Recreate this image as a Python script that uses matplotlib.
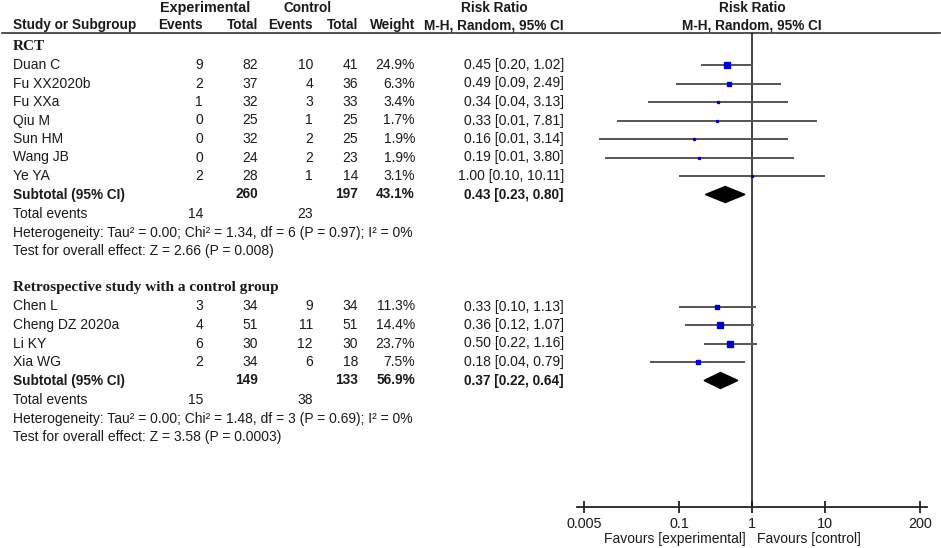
import numpy as np
import matplotlib
matplotlib.use("Agg")
import matplotlib.pyplot as plt

# Study data
rct_names = ["Duan C", "Fu XX2020b", "Fu XXa", "Qiu M", "Sun HM", "Wang JB", "Ye YA"]
rct_exp_events = [9, 2, 1, 0, 0, 0, 2]
rct_exp_total = [82, 37, 32, 25, 32, 24, 28]
rct_ctl_events = [10, 4, 3, 1, 2, 2, 1]
rct_ctl_total = [41, 36, 33, 25, 25, 23, 14]
rct_weight = [24.9, 6.3, 3.4, 1.7, 1.9, 1.9, 3.1]
rct_rr = [0.45, 0.49, 0.34, 0.33, 0.16, 0.19, 1.00]
rct_lo = [0.20, 0.09, 0.038, 0.014, 0.0079, 0.0097, 0.10]
rct_hi = [1.02, 2.49, 3.13, 7.81, 3.14, 3.80, 10.11]
rct_sub = dict(exp_total=260, ctl_total=197, weight=43.1, rr=0.43, lo=0.23, hi=0.80,
               exp_ev=14, ctl_ev=23,
               het="Heterogeneity: Tau\u00b2 = 0.00; Chi\u00b2 = 1.34, df = 6 (P = 0.97); I\u00b2 = 0%",
               test="Test for overall effect: Z = 2.66 (P = 0.008)")

retro_names = ["Chen L", "Cheng DZ 2020a", "Li KY", "Xia WG"]
retro_exp_events = [3, 4, 6, 2]
retro_exp_total = [34, 51, 30, 34]
retro_ctl_events = [9, 11, 12, 6]
retro_ctl_total = [34, 51, 30, 18]
retro_weight = [11.3, 14.4, 23.7, 7.5]
retro_rr = [0.33, 0.36, 0.50, 0.18]
retro_lo = [0.10, 0.12, 0.22, 0.04]
retro_hi = [1.13, 1.07, 1.16, 0.79]
retro_sub = dict(exp_total=149, ctl_total=133, weight=56.9, rr=0.37, lo=0.22, hi=0.64,
                 exp_ev=15, ctl_ev=38,
                 het="Heterogeneity: Tau\u00b2 = 0.00; Chi\u00b2 = 1.48, df = 3 (P = 0.69); I\u00b2 = 0%",
                 test="Test for overall effect: Z = 3.58 (P = 0.0003)")

tick_vals = [0.005, 0.1, 1, 10, 200]
tick_labels = ["0.005", "0.1", "1", "10", "200"]

FS = 10.0
FSB = 9.8
SANS = "Liberation Sans"
SERIF = "Liberation Serif"
TXT = "#1a1a1a"

fig = plt.figure(figsize=(9.41, 5.48), dpi=100)
ax = fig.add_axes([0, 0, 1, 1])
ax.set_xlim(0, 941)
ax.set_ylim(548, 0)
ax.axis("off")

# forest panel, sharing vertical pixel rows with the table
fax = fig.add_axes([577 / 941, 0, 350 / 941, 1])
fax.set_xscale("log")
fax.set_xlim(10 ** -2.4, 10 ** 2.4)
fax.set_ylim(548, 0)
fax.patch.set_alpha(0)
for s in ["top", "left", "right"]:
    fax.spines[s].set_visible(False)
fax.spines["bottom"].set_position(("data", 507))
fax.spines["bottom"].set_linewidth(1.3)
fax.spines["bottom"].set_color("#222222")
fax.set_xticks(tick_vals)
fax.set_xticklabels(tick_labels, fontsize=10.4, family=SANS, color=TXT)
fax.xaxis.set_minor_locator(matplotlib.ticker.NullLocator())
fax.tick_params(axis="x", direction="inout", length=9, width=1.3, color="#222222", pad=2.5)
fax.set_yticks([])

# column right edges / anchors (px)
col_ev1, col_tot1, col_ev2, col_tot2, col_w, col_ci = 203, 258, 313, 358, 415, 564


def t(x, y, s, ha="left", bold=False, family=SANS, size=None):
    if size is None:
        size = FSB if bold else FS
    ax.text(x, y, s, ha=ha, va="center", fontsize=size, family=family,
            fontweight="bold" if bold else "normal", color=TXT)


# headers
t(205, 8, "Experimental", ha="center", bold=True, size=10.4)
t(308, 8, "Control", ha="center", bold=True)
t(494, 8, "Risk Ratio", ha="center", bold=True)
t(752, 8, "Risk Ratio", ha="center", bold=True)
t(13, 25, "Study or Subgroup", bold=True)
t(col_ev1, 25, "Events", ha="right", bold=True)
t(col_tot1, 25, "Total", ha="right", bold=True)
t(col_ev2, 25, "Events", ha="right", bold=True)
t(col_tot2, 25, "Total", ha="right", bold=True)
t(col_w, 25, "Weight", ha="right", bold=True)
t(494, 25, "M-H, Random, 95% CI", ha="center", bold=True)
t(752, 25, "M-H, Random, 95% CI", ha="center", bold=True)
ax.plot([2, 940], [32.5, 32.5], color="#333333", lw=1.2)

fax.vlines(1, 33, 507, color="#111111", lw=1.1)


def ci_str(r, lo, hi):
    return f"{r:.2f} [{lo:.2f}, {hi:.2f}]"


def group(title, y0, names, ee, et, ce, ct, w, rr, lo, hi, sub):
    t(13, y0, title, bold=True, family=SERIF, size=11)
    step = 18.5
    for i, name in enumerate(names):
        y = y0 + step * (i + 1)
        t(13, y, name)
        t(col_ev1, y, str(ee[i]), ha="right")
        t(col_tot1, y, str(et[i]), ha="right")
        t(col_ev2, y, str(ce[i]), ha="right")
        t(col_tot2, y, str(ct[i]), ha="right")
        t(col_w, y, f"{w[i]:.1f}%", ha="right")
        t(col_ci, y, ci_str(rr[i], lo[i], hi[i]), ha="right")
        fax.plot([lo[i], hi[i]], [y, y], color="#555555", lw=1.4, solid_capstyle="butt", zorder=2)
        fax.plot(rr[i], y, marker="s", ms=np.sqrt(w[i]) * 1.0, color="#0000cc",
                 mec="#0000cc", ls="none", zorder=3)
    ys = y0 + step * (len(names) + 1)
    t(13, ys, "Subtotal (95% CI)", bold=True)
    t(col_tot1, ys, str(sub["exp_total"]), ha="right", bold=True)
    t(col_tot2, ys, str(sub["ctl_total"]), ha="right", bold=True)
    t(col_w, ys, f"{sub['weight']:.1f}%", ha="right", bold=True)
    t(col_ci, ys, ci_str(sub["rr"], sub["lo"], sub["hi"]), ha="right", bold=True)
    fax.fill([sub["lo"], sub["rr"], sub["hi"], sub["rr"]], [ys, ys - 8, ys, ys + 8],
             color="black", zorder=3)
    ye = ys + 20
    t(13, ye, "Total events")
    t(col_ev1, ye, str(sub["exp_ev"]), ha="right")
    t(col_ev2, ye, str(sub["ctl_ev"]), ha="right")
    t(13, ye + 18.5, sub["het"])
    t(13, ye + 37, sub["test"])


group("RCT", 46.5, rct_names, rct_exp_events, rct_exp_total, rct_ctl_events, rct_ctl_total,
      rct_weight, rct_rr, rct_lo, rct_hi, rct_sub)
group("Retrospective study with a control group", 288, retro_names, retro_exp_events,
      retro_exp_total, retro_ctl_events, retro_ctl_total, retro_weight, retro_rr,
      retro_lo, retro_hi, retro_sub)

t(746, 539, "Favours [experimental]", ha="right", size=10)
t(757, 539, "Favours [control]", size=10)

fig.savefig("out.png", dpi=100)
